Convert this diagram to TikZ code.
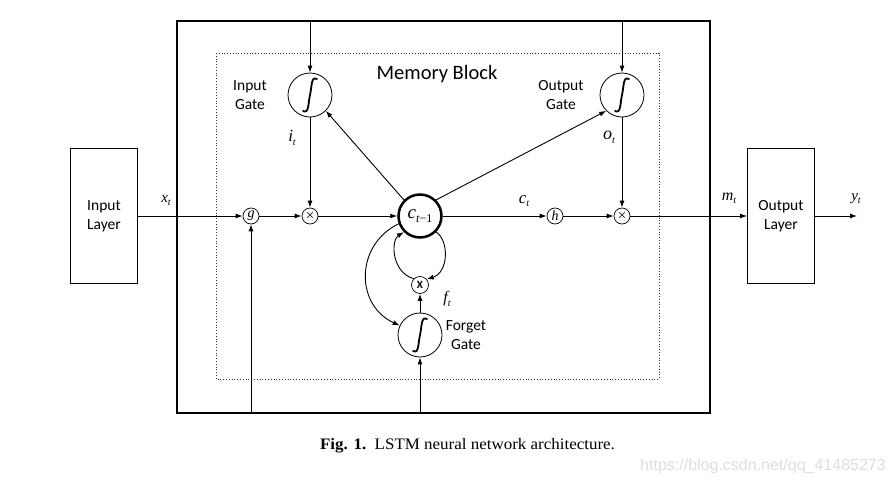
\documentclass[tikz,border=0pt]{standalone}
\usepackage{fontspec}
\usepackage{graphicx}
\newfontfamily\lab{Carlito}
\newfontfamily\capfont{Liberation Serif}
\newfontfamily\wmfont{Liberation Sans}
\newcommand\lv[3][15]{{\capfont\fontsize{#1}{#1}\selectfont\itshape #2\raisebox{-0.45ex}{\fontsize{10}{10}\selectfont #3}}}
\usetikzlibrary{arrows.meta}
\begin{document}
\begin{tikzpicture}[x=1pt,y=-1pt,>={Latex[length=7pt,width=5pt]},line width=0.9pt,
  small/.style={circle,draw,minimum size=16pt,inner sep=0pt,line width=0.7pt,font=\capfont\itshape\fontsize{14}{14}\selectfont},
  mult/.style={small,font=\capfont\fontsize{15}{15}\selectfont},
  gate/.style={circle,draw,minimum size=44pt,inner sep=0pt,line width=0.8pt},
  layer/.style={draw,minimum width=67pt,minimum height=135pt,align=center,font=\lab\fontsize{15.5}{19}\selectfont,line width=0.9pt},
  lbl/.style={align=center,font=\lab\fontsize{15.5}{19}\selectfont},
  ml/.style={inner sep=0pt},
  sigm/.pic={\draw[line width=1.8pt,line cap=round] (-7,16) .. controls (-1,19) and (-2,9) .. (0,0) .. controls (2,-9) and (1,-19) .. (7,-16);}]
\useasboundingbox (0,0) rectangle (895,484);
\fill[white] (0,0) rectangle (895,484);
% boxes
\draw[line width=1.3pt] (177,21) rectangle (710,413);
\draw[dotted,line width=0.8pt,black!80] (216,53) rectangle (659,379);
\node[layer] (inL) at (104,216) {Input\\Layer};
\node[layer] (outL) at (781,216) {Output\\Layer};
\node[font=\lab\fontsize{20.5}{22}\selectfont] (mb) at (437,74) {Memory Block};
% coordinates
\coordinate (topI) at (310,21);
\coordinate (topO) at (622,21);
\coordinate (botG) at (251,413);
\coordinate (botF) at (420,413);
\coordinate (yend) at (857,216);
% nodes
\node[small] (g) at (251,216) {g};
\node[mult] (m1) at (310,216) {×};
\node[circle,draw,line width=2.5pt,minimum size=43pt,inner sep=0pt,font=\capfont\itshape] (c) at (420,216) {\fontsize{19}{19}\selectfont c\raisebox{-0.45ex}{\fontsize{12}{12}\selectfont t\upshape−1}};
\node[small] (h) at (555,216) {h};
\node[mult] (m2) at (622,216) {×};
\node[gate] (ig) at (310,95) {};
\node[gate] (og) at (622,95) {};
\node[gate] (fg) at (420,335) {};
\node[small,minimum size=17pt,font=\lab\bfseries\fontsize{11}{12}\selectfont] (fx) at (420,285) {X};
\pic at (310,95) {sigm};
\pic at (622,95) {sigm};
\pic at (420,335) {sigm};
% labels
\node[lbl] (tig) at (250,95.5) {Input\\Gate};
\node[lbl] (tog) at (561,95.5) {Output\\Gate};
\node[lbl] (tfg) at (466,335.5) {Forget\\Gate};
\node[ml] (xt) at (166,201) {\lv{x}{t}};
\node[ml] (it) at (292,138) {\lv[17]{i}{t}};
\node[ml] (ot) at (609,137) {\lv[18]{o}{t}};
\node[ml] (ct) at (524,201) {\lv[17]{c}{t}};
\node[ml] (mt) at (729,198) {\lv[16]{m}{t}};
\node[ml] (yt) at (856,199) {\lv{y}{t}};
\node[ml] (ft) at (447,299) {\lv[16]{f}{t}};
% connectors
\draw[->] (inL.east) -- (g.west);
\draw[->] (g) -- (m1);
\draw[->] (m1) -- (c);
\draw[->] (c) -- (h);
\draw[->] (h) -- (m2);
\draw[->] (m2) -- (outL.west);
\draw[->] (outL.east) -- (yend);
\draw[->] (topI) -- (ig);
\draw[->] (topO) -- (og);
\draw[->] (botG) -- (g);
\draw[->] (botF) -- (fg);
\draw[->] (ig) -- (m1);
\draw[->] (og) -- (m2);
\draw[->] (c.135) -- (ig.315);
\draw[->] (c.45) -- (og.225);
\draw[->] (fg) -- (fx);
\draw[->] (c.200) .. controls (355,245) and (355,305) .. (fg.155);
\draw[->] (fx.135) .. controls (391,272) and (391,240) .. (c.225);
\draw[->] (c.315) .. controls (449,240) and (449,272) .. (fx.40);
% caption
\node[anchor=base,font=\capfont\fontsize{16}{18}\selectfont,inner sep=0pt] (cap) at (467.5,449) {\scalebox{1.06}[1]{\textbf{Fig. 1.}\enspace LSTM neural network architecture.}};
\node[anchor=base,font=\wmfont\fontsize{16}{18}\selectfont,text=black!13,inner sep=0pt] (wm) at (763,470) {https://blog.csdn.net/qq\_41485273};
\end{tikzpicture}
\end{document}
